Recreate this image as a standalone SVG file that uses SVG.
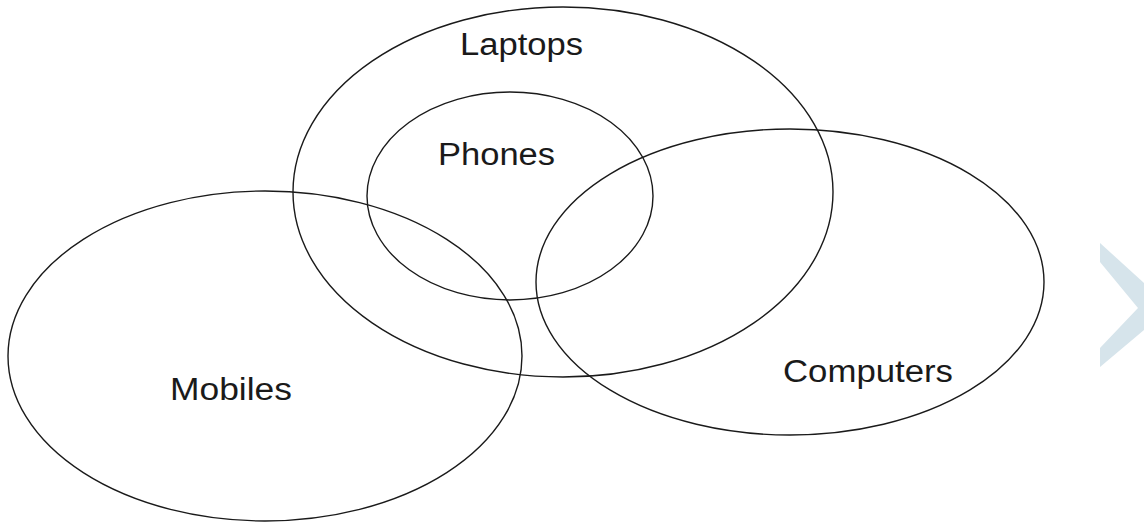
<svg xmlns="http://www.w3.org/2000/svg" width="1144" height="522" viewBox="0 0 1144 522">
<style>
.set{fill:none;stroke:#1a1a1a;stroke-width:1.4}
.lbl{font-family:"Liberation Sans",Arial,sans-serif;font-size:31px;fill:#1a1a1a}
</style>
<rect width="1144" height="522" fill="#ffffff"/>
<g id="laptops">
<ellipse class="set" cx="563" cy="192" rx="270" ry="185"/>
<text class="lbl" x="460" y="55" textLength="123" lengthAdjust="spacingAndGlyphs">Laptops</text>
</g>
<g id="phones">
<ellipse class="set" cx="510" cy="196" rx="143" ry="104"/>
<text class="lbl" x="438" y="165" textLength="117" lengthAdjust="spacingAndGlyphs">Phones</text>
</g>
<g id="mobiles">
<ellipse class="set" cx="265" cy="356" rx="257" ry="165"/>
<text class="lbl" x="170" y="400" textLength="122" lengthAdjust="spacingAndGlyphs">Mobiles</text>
</g>
<g id="computers">
<ellipse class="set" cx="790" cy="282" rx="254" ry="153"/>
<text class="lbl" x="783" y="382" textLength="170" lengthAdjust="spacingAndGlyphs">Computers</text>
</g>
<g id="connectors"></g>
<g id="chevron">
<polygon points="1100,243 1144,283 1144,330 1100,367 1100,348 1138,308 1100,262" fill="#d6e4eb"/>
</g>
</svg>
